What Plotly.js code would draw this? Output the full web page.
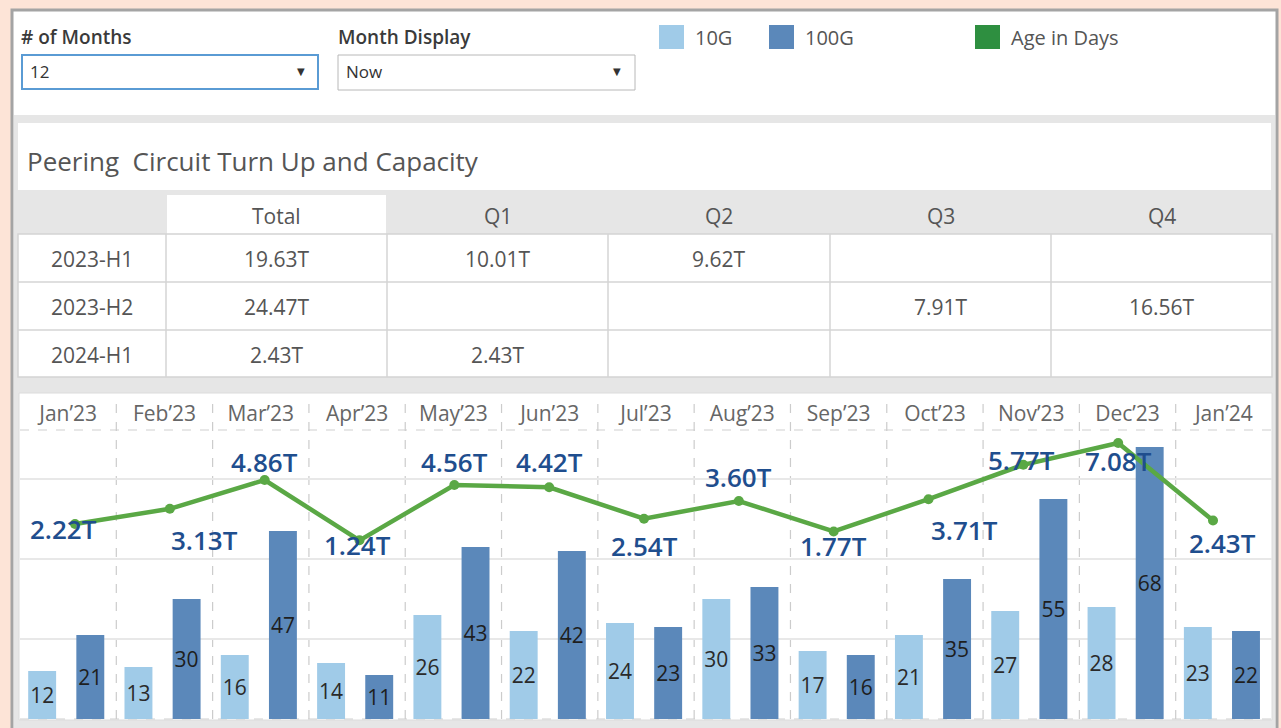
<!DOCTYPE html>
<html><head><meta charset="utf-8">
<script src="https://cdn.plot.ly/plotly-3.0.1.min.js"></script>
<style>html,body{margin:0;padding:0;background:#fde4d7;}#chart{width:1281px;height:728px;}</style>
</head><body><div id="chart"></div>
<script>
// ---------- data ----------
const months = ['Jan’23','Feb’23','Mar’23','Apr’23','May’23','Jun’23','Jul’23','Aug’23','Sep’23','Oct’23','Nov’23','Dec’23','Jan’24'];
const tenG = [12,13,16,14,26,22,24,30,17,21,27,28,23];
const hundredG = [21,30,47,11,43,42,23,33,16,35,55,68,22];
const capacityT = [2.22,3.13,4.86,1.24,4.56,4.42,2.54,3.60,1.77,3.71,5.77,7.08,2.43];
const seriesNames = ['10G','100G','Age in Days'];
const tableHeader = ['', 'Total', 'Q1', 'Q2', 'Q3', 'Q4'];
const tableRows = ['2023-H1','2023-H2','2024-H1'];
const totalCol = ['19.63T','24.47T','2.43T'];
const q1Col = ['10.01T','','2.43T'];
const q2Col = ['9.62T','',''];
const q3Col = ['','7.91T',''];
const q4Col = ['','16.56T',''];
const filterLabels = ['# of Months','Month Display'];
const filterValues = ['12','Now'];
const chartTitle = 'Peering\u00a0 Circuit Turn Up and Capacity';

// ---------- style ----------
const W = 1281, H = 728;
const px = v => v / W;
const py = v => 1 - v / H;
const FONT = 'Open Sans, Noto Sans, sans-serif';
const C10 = '#a0cbe8', C100 = '#5b88ba', CLINE = '#5aa845', CLEG = '#2e8f40', CLBL = '#1f4e8e';
// label offsets (pixels) for the capacity labels
const lblDx = [-12, 35, 0, -2, 0, 0, 0, 0, 0, 36, -2, 0, 9];
const lblDy = [5, 31, -18, 5, -23, -25, 27, -24, 14, 31, -5, 18, 22];
// table geometry (pixels)
const colEdges = [18, 166, 387, 608, 830, 1051, 1272];
const headTop = 195, headBot = 234;
const rowEdges = [234, 282, 330, 377];

const idx = months.map((_, i) => i);

const traces = [
  {
    type: 'bar', x: idx, y: tenG, name: seriesNames[0],
    marker: {color: C10}, width: 0.29, offset: -0.415,
    text: tenG.map(String), textposition: 'inside', insidetextanchor: 'middle',
    textangle: 0, constraintext: 'none',
    textfont: {family: FONT, size: 21, color: '#2a2a2a'},
    showlegend: false, hoverinfo: 'skip'
  },
  {
    type: 'bar', x: idx, y: hundredG, name: seriesNames[1],
    marker: {color: C100}, width: 0.29, offset: 0.085,
    text: hundredG.map(String), textposition: 'inside', insidetextanchor: 'middle',
    textangle: 0, constraintext: 'none',
    textfont: {family: FONT, size: 21, color: '#1e1e1e'},
    showlegend: false, hoverinfo: 'skip'
  },
  {
    type: 'scatter', mode: 'lines+markers', x: idx, y: capacityT, name: seriesNames[2],
    xaxis: 'x2', yaxis: 'y2',
    line: {color: CLINE, width: 4.5}, marker: {color: CLINE, size: 10},
    showlegend: false, hoverinfo: 'skip'
  }
];

const shapes = [
  // dashboard frame
  {type:'rect', xref:'paper', yref:'paper', x0:px(12), x1:px(1277), y0:py(730), y1:py(10),
   fillcolor:'#ffffff', line:{color:'#a4a4a4', width:3}, layer:'below'},
  // grey band below the filters
  {type:'rect', xref:'paper', yref:'paper', x0:px(14), x1:px(1275), y0:py(728), y1:py(115),
   fillcolor:'#e6e6e6', line:{width:0}, layer:'below'},
  // title panel
  {type:'rect', xref:'paper', yref:'paper', x0:px(18), x1:px(1271), y0:py(190), y1:py(123),
   fillcolor:'#ffffff', line:{width:0}, layer:'below'},
  // table header white cell (Total)
  {type:'rect', xref:'paper', yref:'paper', x0:px(colEdges[1]+1), x1:px(colEdges[2]-1), y0:py(headBot), y1:py(headTop),
   fillcolor:'#ffffff', line:{width:0}, layer:'below'},
  // table body
  {type:'rect', xref:'paper', yref:'paper', x0:px(colEdges[0]), x1:px(colEdges[6]), y0:py(rowEdges[3]), y1:py(rowEdges[0]),
   fillcolor:'#ffffff', line:{color:'#d4d4d4', width:1.5}, layer:'below'},
  // chart panel
  {type:'rect', xref:'paper', yref:'paper', x0:px(19), x1:px(1272), y0:py(720), y1:py(393),
   fillcolor:'#ffffff', line:{color:'#dcdcdc', width:1}, layer:'below'},
  // header bottom dashed line
  {type:'line', xref:'paper', yref:'paper', x0:px(20), x1:px(1272), y0:py(430), y1:py(430),
   line:{color:'#cfcfcf', width:1.2, dash:'dash'}, layer:'below'},
  {type:'line', xref:'paper', yref:'paper', x0:px(20), x1:px(1272), y0:py(719), y1:py(719),
   line:{color:'#cfcfcf', width:1.2, dash:'dash'}, layer:'below'},
  // dropdown boxes
  {type:'rect', xref:'paper', yref:'paper', x0:px(22), x1:px(318), y0:py(89), y1:py(55),
   fillcolor:'#ffffff', line:{color:'#5a9bd4', width:2}},
  {type:'rect', xref:'paper', yref:'paper', x0:px(338), x1:px(635), y0:py(90), y1:py(55),
   fillcolor:'#ffffff', line:{color:'#b8b8b8', width:1}},
  // legend swatches
  {type:'rect', xref:'paper', yref:'paper', x0:px(659), x1:px(684), y0:py(49), y1:py(25),
   fillcolor:C10, line:{width:0}},
  {type:'rect', xref:'paper', yref:'paper', x0:px(769), x1:px(794), y0:py(49), y1:py(25),
   fillcolor:C100, line:{width:0}},
  {type:'rect', xref:'paper', yref:'paper', x0:px(975), x1:px(1000), y0:py(49), y1:py(25),
   fillcolor:CLEG, line:{width:0}}
];
// table inner lines
for (let c = 1; c < colEdges.length - 1; c++) {
  shapes.push({type:'line', xref:'paper', yref:'paper', x0:px(colEdges[c]), x1:px(colEdges[c]),
    y0:py(rowEdges[3]), y1:py(rowEdges[0]), line:{color:'#d4d4d4', width:1.5}, layer:'below'});
}
for (let r = 1; r < rowEdges.length - 1; r++) {
  shapes.push({type:'line', xref:'paper', yref:'paper', x0:px(colEdges[0]), x1:px(colEdges[6]),
    y0:py(rowEdges[r]), y1:py(rowEdges[r]), line:{color:'#d4d4d4', width:1.5}, layer:'below'});
}
// column separators (dashed)
for (let i = 0; i < months.length - 1; i++) {
  shapes.push({type:'line', xref:'x', yref:'paper', x0:i+0.5, x1:i+0.5, y0:py(719), y1:py(395),
    line:{color:'#cccccc', width:1.2, dash:'dash'}, layer:'below'});
}

const annotations = [
  {xref:'paper', yref:'paper', x:px(25), y:py(161), text:chartTitle, showarrow:false,
   xanchor:'left', yanchor:'middle', font:{family:FONT, size:26, color:'#555555'}},
  {xref:'paper', yref:'paper', x:px(19), y:py(37), text:filterLabels[0], showarrow:false,
   xanchor:'left', yanchor:'middle', font:{family:FONT, size:19, color:'#3a3a3a', weight:600}},
  {xref:'paper', yref:'paper', x:px(336), y:py(37), text:filterLabels[1], showarrow:false,
   xanchor:'left', yanchor:'middle', font:{family:FONT, size:19, color:'#3a3a3a', weight:600}},
  {xref:'paper', yref:'paper', x:px(28), y:py(72), text:filterValues[0], showarrow:false,
   xanchor:'left', yanchor:'middle', font:{family:FONT, size:17, color:'#333333'}},
  {xref:'paper', yref:'paper', x:px(344), y:py(72), text:filterValues[1], showarrow:false,
   xanchor:'left', yanchor:'middle', font:{family:FONT, size:17, color:'#333333'}},
  {xref:'paper', yref:'paper', x:px(301), y:py(72), text:'▼', showarrow:false,
   xanchor:'center', yanchor:'middle', font:{family:'DejaVu Sans', size:10, color:'#333333'}},
  {xref:'paper', yref:'paper', x:px(617), y:py(72), text:'▼', showarrow:false,
   xanchor:'center', yanchor:'middle', font:{family:'DejaVu Sans', size:10, color:'#333333'}},
  {xref:'paper', yref:'paper', x:px(693), y:py(37), text:seriesNames[0], showarrow:false,
   xanchor:'left', yanchor:'middle', font:{family:FONT, size:20, color:'#555555'}},
  {xref:'paper', yref:'paper', x:px(803), y:py(37), text:seriesNames[1], showarrow:false,
   xanchor:'left', yanchor:'middle', font:{family:FONT, size:20, color:'#555555'}},
  {xref:'paper', yref:'paper', x:px(1009), y:py(37), text:seriesNames[2], showarrow:false,
   xanchor:'left', yanchor:'middle', font:{family:FONT, size:20, color:'#555555'}}
];
// table text
const tableCols = [tableRows, totalCol, q1Col, q2Col, q3Col, q4Col];
tableHeader.forEach((h, c) => {
  if (!h) return;
  annotations.push({xref:'paper', yref:'paper', x:px((colEdges[c] + colEdges[c+1]) / 2), y:py((headTop + headBot) / 2 + 1),
    text:h, showarrow:false, xanchor:'center', yanchor:'middle', font:{family:FONT, size:21, color:'#555555'}});
});
tableCols.forEach((col, c) => {
  col.forEach((val, r) => {
    if (!val) return;
    annotations.push({xref:'paper', yref:'paper', x:px((colEdges[c] + colEdges[c+1]) / 2), y:py((rowEdges[r] + rowEdges[r+1]) / 2 + 1),
      text:val, showarrow:false, xanchor:'center', yanchor:'middle', font:{family:FONT, size:21, color:'#555555'}});
  });
});
// capacity labels
capacityT.forEach((v, i) => {
  annotations.push({xref:'x2', yref:'y2', x:i, y:v, text:v.toFixed(2) + 'T', showarrow:false,
    xanchor:'center', yanchor:'middle', xshift:lblDx[i], yshift:-lblDy[i],
    font:{family:FONT, size:26, color:CLBL, weight:600}});
});

const layout = {
  width: W, height: H,
  margin: {l:0, r:0, t:0, b:0},
  paper_bgcolor: '#fde4d7',
  plot_bgcolor: 'rgba(0,0,0,0)',
  barmode: 'overlay',
  showlegend: false,
  xaxis: {
    domain: [px(20), px(1272)], range: [-0.5, 12.5],
    tickvals: idx, ticktext: months, side: 'top', ticks: '',
    showgrid: false, zeroline: false, showline: false, fixedrange: true,
    tickfont: {family: FONT, size: 21, color: '#666666'}, ticklabelstandoff: 4
  },
  xaxis2: {
    overlaying: 'x', range: [-0.58, 12.622], visible: false, fixedrange: true
  },
  yaxis: {
    domain: [py(719), py(430)], range: [0, 72.25], dtick: 20,
    showgrid: true, gridcolor: '#e8e8e8', gridwidth: 1.5,
    showticklabels: false, zeroline: false, showline: false, fixedrange: true
  },
  yaxis2: {
    overlaying: 'y', range: [-9.48, 7.86], visible: false, fixedrange: true
  },
  shapes: shapes,
  annotations: annotations,
  font: {family: FONT}
};

Plotly.newPlot('chart', traces, layout, {displayModeBar: false, staticPlot: true});
</script>
</body></html>
